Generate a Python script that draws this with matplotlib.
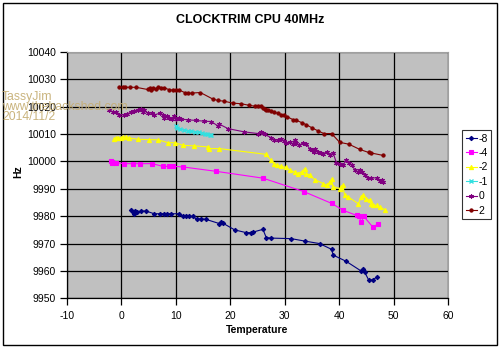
import matplotlib
matplotlib.use("Agg")
import matplotlib.pyplot as plt
from matplotlib.patches import Rectangle

plt.rcParams['font.family'] = ['Liberation Sans', 'DejaVu Sans']

# Series: trim setting -> (temperature, frequency)
trim_labels = ["-8", "-4", "-2", "-1", "0", "2"]

temp_m8 = [1.75, 2.05, 2.25, 2.5, 2.85, 3.6, 4.5, 6.0, 7.0, 7.9, 8.4, 9.1, 10.6, 11.3, 11.9,
           12.5, 13.1, 13.9, 14.6, 15.6, 18.0, 18.3, 18.6, 20.8, 22.9, 23.8, 24.2, 26.0, 26.6,
           27.5, 31.2, 33.7, 36.4, 38.6, 38.9, 41.3, 44.1, 44.4, 44.7, 45.4, 46.2, 46.9]
hz_m8 = [9982.1, 9981.5, 9980.9, 9981.9, 9981.5, 9981.9, 9981.9, 9980.9, 9980.9, 9980.9, 9980.9,
         9980.9, 9980.9, 9980.0, 9980.0, 9979.9, 9979.9, 9978.8, 9979.1, 9978.8, 9977.3, 9977.8,
         9977.5, 9975.0, 9974.0, 9974.0, 9974.2, 9975.2, 9972.2, 9972.0, 9971.8, 9970.9, 9970.0,
         9967.9, 9965.8, 9963.5, 9959.9, 9960.8, 9959.5, 9956.8, 9956.7, 9957.8]

temp_m4 = [-1.9, -1.8, -1.7, -1.0, 0.5, 2.1, 3.5, 5.7, 7.6, 8.8, 9.4, 11.3, 17.4, 26.0, 33.5,
           38.6, 40.8, 43.2, 43.6, 44.1, 44.5, 46.2, 47.2]
hz_m4 = [10000.1, 9999.4, 9999.8, 9999.6, 9999.2, 9999.2, 9999.2, 9999.2, 9998.2, 9998.2, 9998.2,
         9998.0, 9996.4, 9993.9, 9989.0, 9984.7, 9982.1, 9980.3, 9980.0, 9977.8, 9980.0, 9976.0,
         9977.3]

temp_m2 = [-1.3, -1.0, -0.7, -0.1, 0.2, 0.8, 1.4, 3.0, 5.1, 6.7, 8.5, 9.9, 11.3, 13.4, 15.9,
           16.0, 18.0, 26.6, 27.5, 28.1, 28.5, 29.4, 30.3, 30.9, 31.8, 32.4, 33.1, 33.7, 34.0,
           34.6, 35.5, 37.1, 37.7, 38.3, 38.6, 38.9, 40.1, 40.4, 40.7, 41.0, 41.7, 43.5, 44.1,
           44.4, 45.0, 45.6, 45.9, 46.2, 46.9, 47.5, 48.4]
hz_m2 = [10008.1, 10008.4, 10008.6, 10008.6, 10008.9, 10008.8, 10008.6, 10008.1, 10008.0,
         10007.9, 10006.9, 10006.8, 10005.9, 10005.7, 10005.3, 10004.7, 10004.7, 10002.6,
         10000.4, 9998.9, 9998.6, 9998.2, 9997.8, 9996.8, 9996.2, 9995.6, 9996.2, 9997.4,
         9995.6, 9995.0, 9993.4, 9991.9, 9991.3, 9992.5, 9993.5, 9990.7, 9990.1, 9990.7,
         9991.3, 9987.6, 9987.0, 9984.6, 9987.0, 9987.6, 9986.4, 9985.8, 9984.6, 9984.0,
         9984.0, 9983.3, 9982.4]

temp_m1 = [10.0, 10.3, 10.8, 11.5, 12.2, 12.8, 13.5, 14.2, 14.8, 15.3, 15.8, 16.2, 16.5]
hz_m1 = [10013.0, 10012.3, 10011.8, 10011.5, 10011.2, 10011.0, 10010.8, 10010.6, 10010.3,
         10010.1, 10010.0, 10009.8, 10009.5]

temp_0 = [-2.2, -1.6, -1.0, -0.4, 0.5, 1.1, 1.7, 2.4, 3.0, 3.6, 3.9, 4.2, 4.8, 5.7, 6.0, 7.0,
          7.6, 7.9, 8.3, 8.8, 9.3, 9.7, 10.0, 10.6, 11.0, 12.2, 13.7, 15.2, 16.5, 17.7, 18.0,
          19.6, 22.6, 25.1, 25.7, 26.0, 26.3, 27.5, 28.1, 28.8, 29.4, 29.9, 30.3, 30.9, 31.5,
          31.8, 32.1, 32.7, 33.4, 34.0, 34.6, 35.0, 35.4, 35.6, 36.1, 36.6, 37.1, 37.7, 38.3,
          38.9, 39.5, 40.1, 40.7, 41.3, 41.8, 42.3, 42.9, 43.4, 43.8, 44.2, 44.7, 45.3, 45.9,
          46.9, 47.5, 47.9, 48.1]
hz_0 = [10018.8, 10018.2, 10018.2, 10017.1, 10017.1, 10017.5, 10017.9, 10018.6, 10018.8,
        10019.2, 10018.2, 10018.7, 10017.7, 10017.7, 10017.0, 10017.6, 10017.1, 10016.0,
        10016.5, 10015.9, 10015.7, 10016.7, 10015.5, 10016.0, 10015.5, 10015.2, 10015.0,
        10014.7, 10014.6, 10013.0, 10013.6, 10012.0, 10010.8, 10010.2, 10010.8, 10010.3,
        10009.9, 10008.7, 10008.0, 10007.8, 10008.3, 10007.5, 10006.8, 10007.2, 10006.3,
        10008.0, 10006.6, 10006.0, 10006.8, 10006.2, 10004.7, 10004.1, 10003.5, 10004.6,
        10003.4, 10003.1, 10002.9, 10003.5, 10002.3, 10003.1, 9999.5, 9999.0, 9998.6,
        10000.4, 9999.5, 9998.6, 9997.0, 9996.2, 9996.8, 9996.2, 9994.9, 9994.1, 9994.0,
        9994.0, 9992.9, 9993.4, 9992.5]

temp_2 = [-0.4, 0.2, 0.6, 1.5, 2.7, 4.8, 5.2, 5.5, 5.8, 6.3, 6.8, 7.2, 7.8, 8.8, 9.4, 10.0,
          10.5, 11.6, 12.3, 13.0, 14.5, 16.8, 17.7, 18.9, 20.5, 22.0, 23.5, 24.5, 25.1, 25.6,
          26.0, 26.3, 26.6, 26.9, 27.5, 28.1, 28.7, 29.4, 29.9, 30.5, 31.5, 32.1, 33.1, 34.0,
          35.0, 36.1, 37.2, 38.6, 40.1, 41.8, 43.8, 45.4, 45.9, 48.1]
hz_2 = [10027.1, 10027.1, 10027.1, 10027.1, 10027.1, 10026.3, 10026.8, 10026.1, 10027.0,
        10026.6, 10027.2, 10027.0, 10027.0, 10026.2, 10026.1, 10026.2, 10026.2, 10025.2,
        10024.9, 10025.0, 10025.2, 10022.8, 10022.3, 10022.0, 10021.3, 10021.1, 10020.5,
        10020.2, 10020.2, 10020.1, 10019.7, 10019.1, 10018.9, 10018.9, 10018.4, 10018.0,
        10017.6, 10017.1, 10016.8, 10016.3, 10015.3, 10015.1, 10014.2, 10013.4, 10012.3,
        10011.2, 10010.2, 10010.2, 10007.0, 10006.3, 10004.4, 10003.3, 10003.1, 10002.2]

x_ticks = [-10, 0, 10, 20, 30, 40, 50, 60]
y_ticks = [9950, 9960, 9970, 9980, 9990, 10000, 10010, 10020, 10030, 10040]

series = [
    (temp_m8, hz_m8, "#000080", "D", 2.2, 0.8),
    (temp_m4, hz_m4, "#FF00FF", "s", 2.4, 0.8),
    (temp_m2, hz_m2, "#FFFF00", "^", 3.0, 0.8),
    (temp_m1, hz_m1, "#33E0E0", "x", 3.0, 1.0),
    (temp_0, hz_0, "#800080", (6, 2, 0), 3.2, 0.8),
    (temp_2, hz_2, "#800000", "o", 2.3, 0.8),
]

fig = plt.figure(figsize=(5.0, 3.48), dpi=100)
fig.patch.set_facecolor("white")
ax = fig.add_axes([67 / 500, 1 - 298.3 / 348, (448 - 67) / 500, (298.3 - 52) / 348])
ax.set_facecolor("#C0C0C0")

for (t, hz, col, mk, ms, mew), lab in zip(series, trim_labels):
    ax.plot(t, hz, color=col, lw=0.8, marker=mk, markersize=ms, markeredgewidth=mew,
            markerfacecolor=col, markeredgecolor=col, label=lab, zorder=3)

ax.set_xlim(x_ticks[0], x_ticks[-1])
ax.set_ylim(y_ticks[0], y_ticks[-1])
ax.set_xticks(x_ticks)
ax.set_yticks(y_ticks)
ax.set_xticklabels([str(v) for v in x_ticks])
ax.set_yticklabels([str(v) for v in y_ticks])
ax.grid(True, color="black", lw=0.9, zorder=1)
ax.set_axisbelow(True)
ax.tick_params(axis="both", direction="out", length=5, width=0.9, labelsize=7.5,
               colors="black")
ax.tick_params(axis="x", pad=4)
ax.tick_params(axis="y", pad=3)
for side in ("top", "right"):
    ax.spines[side].set_color("#A0A0A0")
    ax.spines[side].set_linewidth(0.8)
for side in ("left", "bottom"):
    ax.spines[side].set_color("black")
    ax.spines[side].set_linewidth(0.9)

fig.text(0.5, 1 - 20 / 348, "CLOCKTRIM CPU 40MHz", ha="center", va="center",
         fontsize=9, fontweight="bold")
fig.text(257 / 500, 1 - 330 / 348, "Temperature", ha="center", va="center",
         fontsize=7.5, fontweight="bold")
fig.text(18 / 500, 1 - 172 / 348, "Hz", ha="center", va="center", rotation=90,
         fontsize=7.5, fontweight="bold")

leg = fig.legend(loc="upper left", bbox_to_anchor=(462 / 500, 1 - 130 / 348),
                 bbox_transform=fig.transFigure, fontsize=7.5, frameon=True,
                 fancybox=False, handlelength=1.05, handletextpad=0.15,
                 borderpad=0.35, labelspacing=0.42, borderaxespad=0.0)
leg.get_frame().set_edgecolor("black")
leg.get_frame().set_linewidth(0.8)

# outer chart border
fig.patches.append(Rectangle((3 / 500, 3 / 348), 494 / 500, 342 / 348,
                             transform=fig.transFigure, fill=False,
                             edgecolor="black", lw=1.0))

# author stamp
for i, line in enumerate(["TassyJim", "www.thebackshed.com", "2014/11/2"]):
    fig.text(2 / 500, 1 - (96.5 + 10.2 * i) / 348, line, ha="left", va="center",
             fontsize=8.8, color="#C4AC70", alpha=0.9, zorder=10)

fig.savefig("out.png", dpi=100)
